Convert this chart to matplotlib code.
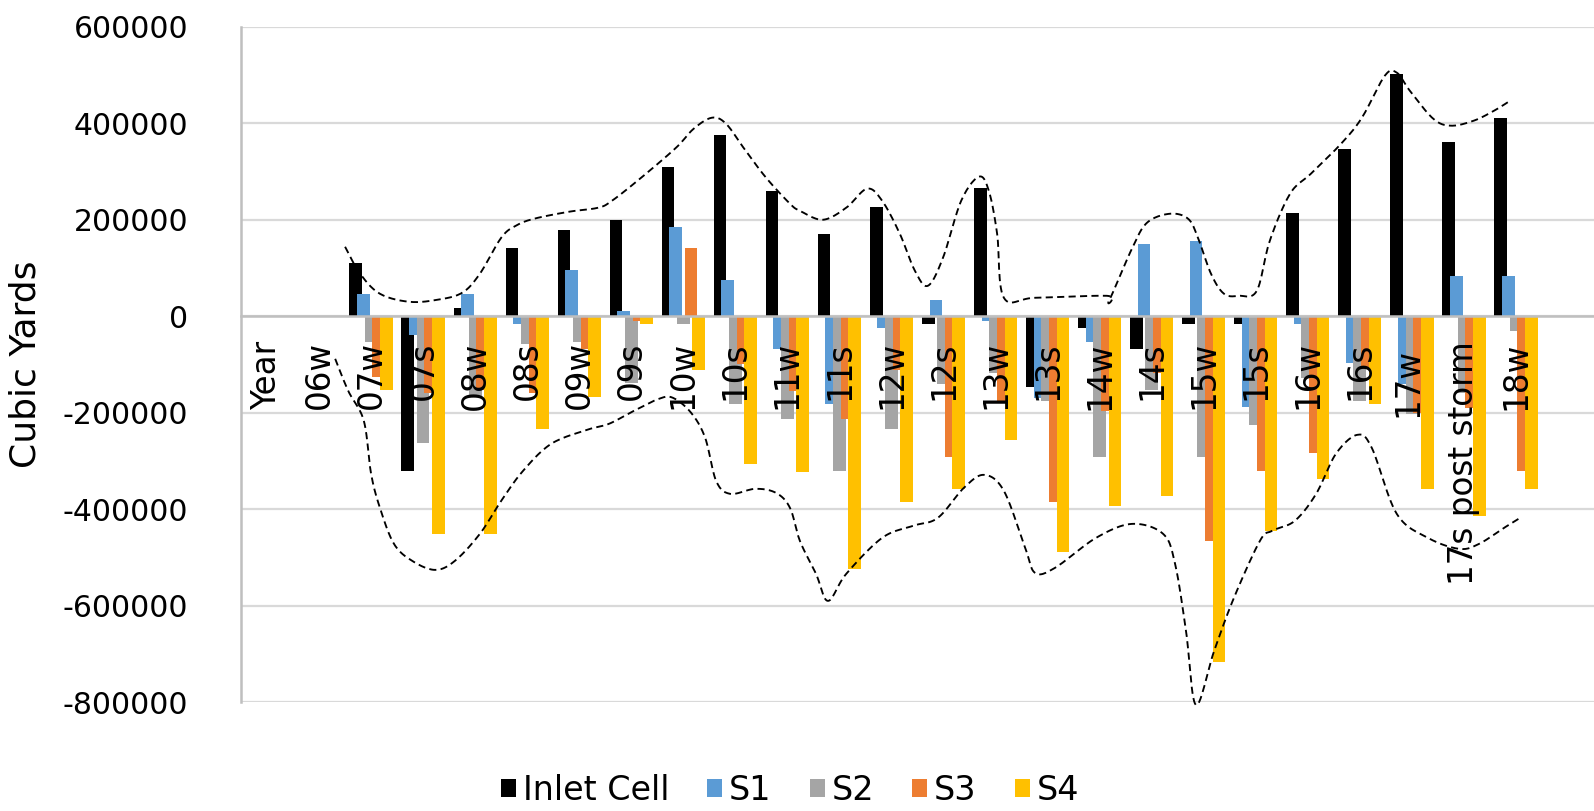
import numpy as np
import matplotlib
matplotlib.use("Agg")
import matplotlib.pyplot as plt
from matplotlib.patches import Patch

# Survey periods (w = winter, s = summer)
categories = ["Year", "06w", "07w", "07s", "08w", "08s", "09w", "09s", "10w", "10s",
              "11w", "11s", "12w", "12s", "13w", "13s", "14w", "14s", "15w", "15s",
              "16w", "16s", "17w ", "17s post storm", "18w"]

nan = np.nan
inlet_cell = [nan, nan, 111000, -320000, 17000, 141000, 178000, 199000, 310000, 376000,
              259000, 170000, 227000, -17000, 266000, -146000, -25000, -67000, -16000, -17000,
              214000, 347000, 502000, 361000, 411000]
s1 = [nan, nan, 47000, -38000, 47000, -16000, 97000, 10000, 185000, 76000,
      -67000, -182000, -25000, 33000, -10000, -170000, -53000, 149000, 156000, -189000,
      -17000, -96000, -140000, 83000, 83000]
s2 = [nan, nan, -53000, -262000, -166000, -58000, -53000, -139000, -17000, -182000,
      -212000, -320000, -233000, -140000, -118000, -175000, -291000, -152000, -291000, -225000,
      -128000, -175000, -203000, -159000, -31000]
s3 = [nan, nan, -125000, -159000, -152000, -159000, -67000, -10000, 141000, -98000,
      -154000, -212000, -111000, -291000, -175000, -386000, -197000, -118000, -466000, -320000,
      -283000, -110000, -200000, -190000, -320000]
s4 = [nan, nan, -152000, -452000, -452000, -233000, -168000, -17000, -111000, -306000,
      -322000, -524000, -386000, -358000, -256000, -489000, -394000, -372000, -718000, -446000,
      -337000, -182000, -358000, -415000, -358000]

series_names = ["Inlet Cell", "S1", "S2", "S3", "S4"]
series_values = [inlet_cell, s1, s2, s3, s4]
series_colors = ["#000000", "#5B9BD5", "#A5A5A5", "#ED7D31", "#FFC000"]

# Hand-sketched envelope around the bars (category position, cubic yards)
upper_x = [1.50, 1.79, 2.17, 2.73, 3.27, 3.75, 4.09, 4.50, 4.78, 5.13, 5.80, 6.36, 6.63, 7.19,
           7.86, 8.20, 8.55, 8.82, 9.17, 9.59, 10.05, 10.24, 10.68, 11.13, 11.53, 11.82, 12.16,
           12.45, 12.70, 12.99, 13.34, 13.68, 13.87, 14.03, 14.16, 14.76, 16.14, 16.18, 16.62,
           16.91, 17.35, 17.70, 17.89, 18.14, 18.39, 18.68, 19.02, 19.27, 19.66, 20.06, 20.64,
           21.04, 21.48, 21.71, 21.96, 22.41, 22.75, 23.19, 23.58, 23.89]
upper_y = [144200, 88200, 46700, 30100, 34200, 48800, 88200, 162900, 187800, 202300, 216800,
           225100, 239700, 287400, 349600, 389100, 411900, 399400, 347600, 287400, 233400,
           218900, 200200, 225100, 264600, 239700, 171200, 94400, 63300, 121400, 239700,
           289500, 260400, 171200, 38400, 38400, 42500, 32200, 140100, 194000, 212700, 202300,
           162900, 88200, 46700, 42500, 52900, 156700, 254200, 295700, 357900, 411900, 499000,
           505300, 467900, 409800, 395300, 405700, 426400, 447200]
lower_x = [1.31, 1.56, 1.86, 2.00, 2.17, 2.44, 2.79, 3.23, 3.61, 4.09, 4.50, 4.92, 5.46, 6.15,
           6.57, 7.05, 7.53, 7.80, 8.15, 8.42, 8.63, 8.90, 9.38, 9.78, 10.05, 10.24, 10.55,
           10.78, 11.13, 11.82, 12.41, 12.89, 13.39, 13.78, 14.16, 14.57, 14.76, 15.14, 15.93,
           16.62, 17.22, 17.45, 17.66, 17.85, 18.20, 18.58, 19.08, 19.31, 19.75, 20.16, 20.54,
           20.95, 21.23, 21.71, 22.31, 22.91, 23.29, 23.77, 24.08]
lower_y = [-88200, -154600, -216800, -326800, -397400, -472100, -507300, -526000, -507300,
           -451300, -382800, -320600, -264600, -235500, -223100, -196100, -171200, -169100,
           -200200, -252100, -341300, -368300, -357900, -366200, -397400, -465800, -534300,
           -590300, -534300, -459600, -434700, -418100, -355900, -328900, -362100, -480400,
           -532200, -521900, -459600, -430600, -451300, -513600, -652600, -806100, -694100,
           -584100, -465800, -445100, -424300, -368300, -285300, -245900, -272900, -409800,
           -459600, -482400, -472100, -438900, -418100]

y_ticks = list(range(-800000, 600001, 200000))


def catmull_rom(xs, ys, n=14):
    """Smooth a polyline through the given points (uniform Catmull-Rom)."""
    p = np.column_stack([xs, ys]).astype(float)
    P = np.vstack([p[0], p, p[-1]])
    t = np.linspace(0, 1, n, endpoint=False)[:, None]
    parts = []
    for i in range(1, len(P) - 2):
        p0, p1, p2, p3 = P[i - 1], P[i], P[i + 1], P[i + 2]
        seg = 0.5 * (2 * p1 + (-p0 + p2) * t
                     + (2 * p0 - 5 * p1 + 4 * p2 - p3) * t ** 2
                     + (-p0 + 3 * p1 - 3 * p2 + p3) * t ** 3)
        parts.append(seg)
    parts.append(P[-2][None])
    out = np.vstack(parts)
    return out[:, 0], out[:, 1]


plt.rcParams["font.family"] = ["DejaVu Sans"]

W, H = 1594, 811
fig = plt.figure(figsize=(W / 100, H / 100), dpi=100)
ax = fig.add_axes([241 / W, (H - 702) / H, (W - 241) / W, 675 / H])

n_cat = len(categories)
idx = np.arange(n_cat)
bar_w = 0.244
step = 0.147

for k, (name, vals, col) in enumerate(zip(series_names, series_values, series_colors)):
    ax.bar(idx + (k - 2) * step, np.array(vals, dtype=float), width=bar_w,
           color=col, linewidth=0, zorder=1, label=name)

# gridlines behind the bars
for yt in y_ticks:
    ax.axhline(yt, color="#d9d9d9", linewidth=1.6, zorder=0)

# envelope sketch
for xs, ys in ((upper_x, upper_y), (lower_x, lower_y)):
    sx, sy = catmull_rom(xs, ys)
    ax.plot(sx, sy, color="black", linewidth=1.35, linestyle=(0, (3.8, 2.3)),
            zorder=4, clip_on=False)

ax.set_xlim(-0.5, n_cat + 0.5)
ax.set_ylim(-800000, 600000)
ax.set_yticks(y_ticks)
ax.set_yticklabels([str(v) for v in y_ticks])
ax.set_xticks(idx)
ax.set_xticklabels(categories)

ax.tick_params(axis="y", length=0, pad=38, labelsize=21.5, colors="black")
ax.tick_params(axis="x", length=0, pad=18, labelsize=23.5, colors="black",
               labelrotation=90)
for lbl in ax.get_xticklabels():
    lbl.set_horizontalalignment("center")
    lbl.set_verticalalignment("top")

for side in ("top", "right"):
    ax.spines[side].set_visible(False)
ax.spines["bottom"].set_position(("data", 0))
ax.spines["bottom"].set_color("#bfbfbf")
ax.spines["bottom"].set_linewidth(1.8)
ax.spines["left"].set_color("#bfbfbf")
ax.spines["left"].set_linewidth(1.8)

fig.text(26 / W, 1 - 364 / H, "Cubic Yards", rotation=90, ha="center", va="center",
         fontsize=26)

handles = [Patch(facecolor=c, edgecolor="none") for c in series_colors]
fig.legend(handles, series_names, loc="center", bbox_to_anchor=(790 / W, 1 - 790 / H),
           bbox_transform=fig.transFigure, ncol=5, frameon=False, fontsize=24,
           handlelength=0.45, handleheight=0.45, handletextpad=0.2, columnspacing=1.15,
           borderpad=0, borderaxespad=0)

fig.savefig("out.png", dpi=100)
